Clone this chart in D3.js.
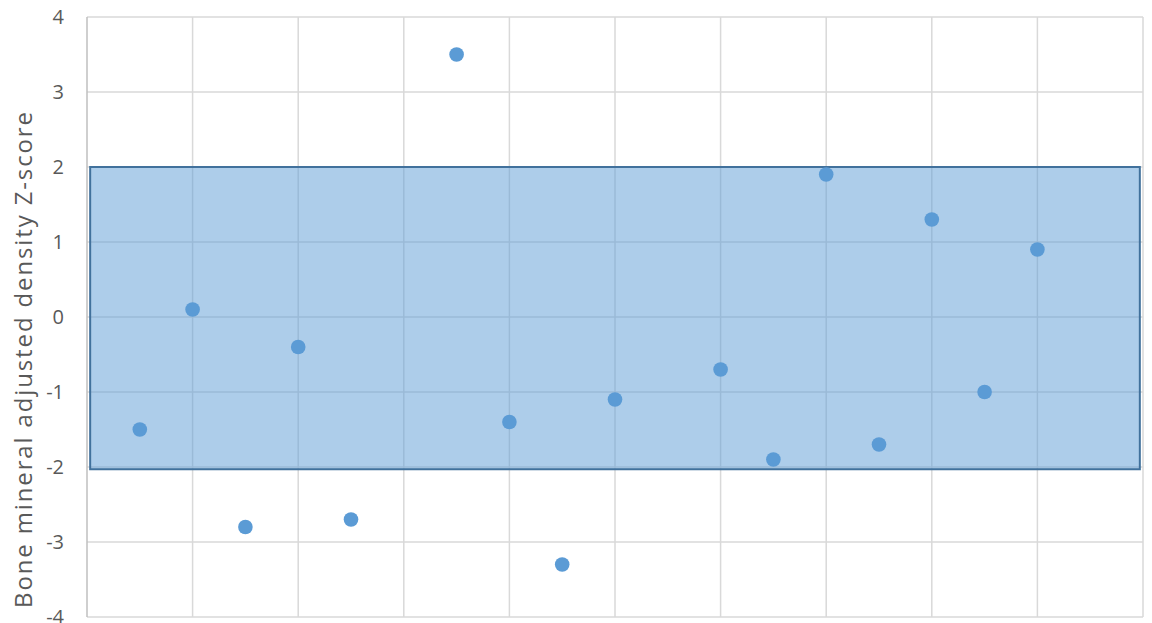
<!DOCTYPE html>
<html><head><meta charset="utf-8">
<script src="https://cdn.jsdelivr.net/npm/d3@7"></script>
<style>body{margin:0;background:#fff}</style>
</head><body>
<script>
const xPositions = [0.5, 1, 1.5, 2, 2.5, 3.5, 4, 4.5, 5, 6, 6.5, 7, 7.5, 8, 8.5, 9];
const zScores = [-1.5, 0.1, -2.8, -0.4, -2.7, 3.5, -1.4, -3.3, -1.1, -0.7, -1.9, 1.9, -1.7, 1.3, -1.0, 0.9];
const yTicks = [-4, -3, -2, -1, 0, 1, 2, 3, 4];
const xGrid = [0, 1, 2, 3, 4, 5, 6, 7, 8, 9, 10];
const normalBand = [-2.03, 2];
const yLabel = "Bone mineral adjusted density Z-score";

const W = 1152, H = 623;
const m = {left: 87, right: 9, top: 17, bottom: 6};
const svg = d3.select("body").append("svg").attr("width", W).attr("height", H);
const x = d3.scaleLinear().domain([0, 10]).range([m.left, W - m.right]);
const y = d3.scaleLinear().domain([-4, 4]).range([H - m.bottom, m.top]);
const font = "'Open Sans', 'Noto Sans', sans-serif";

// gridlines
svg.append("g").selectAll("line").data(yTicks).join("line")
  .attr("x1", x(0)).attr("x2", x(10)).attr("y1", d => y(d)).attr("y2", d => y(d))
  .attr("stroke", "#d9d9d9").attr("stroke-width", 1.5);
svg.append("g").selectAll("line").data(xGrid).join("line")
  .attr("x1", d => x(d)).attr("x2", d => x(d)).attr("y1", y(-4)).attr("y2", y(4))
  .attr("stroke", d => d === 0 ? "#bfbfbf" : "#d9d9d9").attr("stroke-width", 1.5);

// band
svg.append("rect")
  .attr("x", x(0.03)).attr("width", x(9.97) - x(0.03))
  .attr("y", y(normalBand[1])).attr("height", y(normalBand[0]) - y(normalBand[1]))
  .attr("fill", "rgba(91,155,213,0.5)").attr("stroke", "#41719c").attr("stroke-width", 2);

// y axis labels
const yAxis = d3.axisLeft(y).tickValues(yTicks).tickSize(0).tickPadding(0).tickFormat(d => String(d));
const ga = svg.append("g").attr("transform", `translate(64,0)`).call(yAxis);
ga.select(".domain").remove();
ga.selectAll("text").attr("font-family", font).attr("font-size", 20).attr("fill", "#595959").attr("x", 0);

// points
svg.append("g").selectAll("circle").data(zScores).join("circle")
  .attr("cx", (d, i) => x(xPositions[i])).attr("cy", d => y(d)).attr("r", 7.3)
  .attr("fill", "#5b9bd5");

svg.append("text").attr("transform", `translate(32,360) rotate(-90)`)
  .attr("text-anchor", "middle").attr("font-family", font)
  .attr("font-size", 24).attr("textLength", 496).attr("lengthAdjust", "spacing")
  .attr("fill", "#595959").text(yLabel);
</script>
</body></html>
